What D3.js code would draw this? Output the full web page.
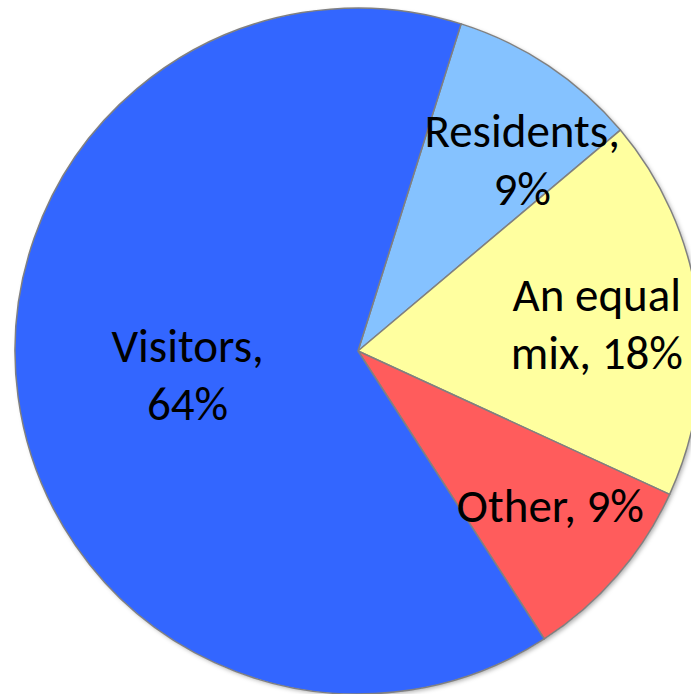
<!DOCTYPE html>
<html>
<head>
<meta charset="utf-8">
<script src="https://cdn.jsdelivr.net/npm/d3@7"></script>
<style>
html,body{margin:0;padding:0;background:#fff;overflow:hidden;}
</style>
</head>
<body>
<svg id="chart" width="691" height="694"></svg>
<script>
// ---- data ----
const categories = ["Residents", "An equal mix", "Other", "Visitors"];
const values = [9, 18, 9, 64];
const labelLines = [["Residents,", "9%"], ["An equal", "mix, 18%"], ["Other, 9%"], ["Visitors,", "64%"]];
const colors = ["#85C2FF", "#FFFF9F", "#FF5C5C", "#3366FF"];

// ---- layout (styles / positions, not data) ----
const W = 691, H = 694;
const cx = 358, cy = 351, R = 343;
const startDeg = 17.5;
const labelRadius = [240, 240, 240, 175];
const labelNudge = [[31, 10], [1, 6], [11, -1], [3, 2]];
const fontSize = 47;
const lineH = 58;

const svg = d3.select("#chart");
const defs = svg.append("defs");
const f = defs.append("filter").attr("id", "sh").attr("x", "-10%").attr("y", "-10%").attr("width", "120%").attr("height", "120%");
f.append("feDropShadow").attr("dx", 2).attr("dy", 2).attr("stdDeviation", 2).attr("flood-color", "#000").attr("flood-opacity", 0.3);

const start = startDeg * Math.PI / 180;
const pie = d3.pie().sort(null).value(d => d.v)
  .startAngle(start).endAngle(start + 2 * Math.PI);
const data = categories.map((c, i) => ({c, v: values[i], i}));
const arcs = pie(data);
const arc = d3.arc().innerRadius(0).outerRadius(R);

const g = svg.append("g").attr("transform", `translate(${cx},${cy})`);
g.append("circle").attr("r", R).attr("fill", "#fff").attr("filter", "url(#sh)");
g.selectAll("path.slice").data(arcs).join("path")
  .attr("class", "slice")
  .attr("d", arc)
  .attr("fill", d => colors[d.data.i])
  .attr("stroke", "#808080")
  .attr("stroke-width", 1.5)
  .attr("stroke-linejoin", "round");

const lbl = g.selectAll("text.lbl").data(arcs).join("text")
  .attr("class", "lbl")
  .attr("text-anchor", "middle")
  .attr("font-family", "Carlito, Calibri, Lato, sans-serif")
  .attr("font-size", fontSize)
  .attr("fill", "#000")
  .each(function(d) {
    const i = d.data.i;
    const a = (d.startAngle + d.endAngle) / 2;
    const x = Math.sin(a) * labelRadius[i] + labelNudge[i][0];
    const y = -Math.cos(a) * labelRadius[i] + labelNudge[i][1];
    const lines = labelLines[i];
    const n = lines.length;
    const t = d3.select(this);
    lines.forEach((s, k) => {
      t.append("tspan")
        .attr("x", x)
        .attr("y", y + (k - (n - 1) / 2) * lineH + 15)
        .text(s);
    });
  });
</script>
</body>
</html>
